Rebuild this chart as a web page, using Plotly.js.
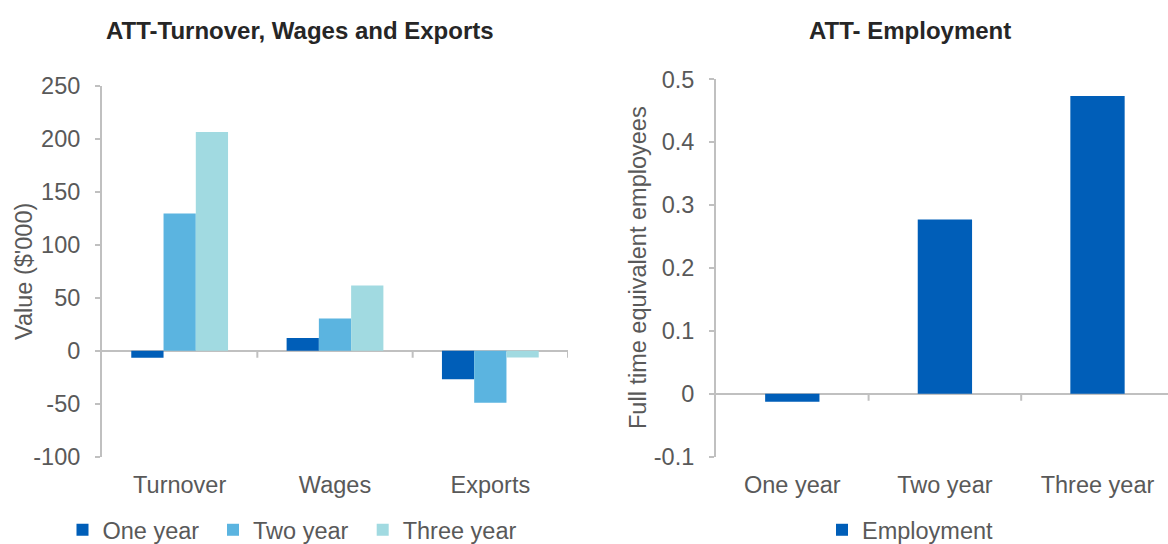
<!DOCTYPE html>
<html>
<head>
<meta charset="utf-8">
<script src="https://cdn.plot.ly/plotly-3.0.1.min.js"></script>
<style>html,body{margin:0;padding:0;background:#fff;}#chart{width:1168px;height:544px;}</style>
</head>
<body>
<div id="chart"></div>
<script>
// ---- data ----
var categories = ["Turnover", "Wages", "Exports"];
var oneYear = [-6.6, 12.0, -26.8];
var twoYear = [129.7, 30.5, -49.1];
var threeYear = [206.5, 61.7, -6.3];
var seriesNames = ["One year", "Two year", "Three year"];

var empCategories = ["One year", "Two year", "Three year"];
var employment = [-0.0127, 0.277, 0.4735];
var empName = "Employment";

var leftTickVals = [-100, -50, 0, 50, 100, 150, 200, 250];
var leftTickText = ["-100", "-50", "0", "50", "100", "150", "200", "250"];
var rightTickVals = [-0.1, 0, 0.1, 0.2, 0.3, 0.4, 0.5];
var rightTickText = ["-0.1", "0", "0.1", "0.2", "0.3", "0.4", "0.5"];

var titleLeft = "ATT-Turnover, Wages and Exports";
var titleRight = "ATT- Employment";
var yTitleLeft = "Value ($'000)";
var yTitleRight = "Full time equivalent employees";

// ---- styles ----
var FONT = "Arial, 'Liberation Sans', sans-serif";
var TXT = "#595959";
var AX = "#c0c0c0";
var FS = 23.5;
var colors = ["#005EB8", "#5BB4E0", "#A1DAE1"];
var leftLegendIds = ["legend", "legend3", "legend4"];
var leftLegendX = [62.5, 213, 362.7];

var traces = [];
[oneYear, twoYear, threeYear].forEach(function (vals, i) {
  traces.push({
    type: "bar", x: categories, y: vals, name: seriesNames[i],
    marker: {color: colors[i]}, xaxis: "x", yaxis: "y", legend: leftLegendIds[i], showlegend: true
  });
});
traces.push({
  type: "bar", x: empCategories, y: employment, name: empName,
  marker: {color: colors[0]}, xaxis: "x2", yaxis: "y2", legend: "legend2",
  width: 0.356, showlegend: true
});

function yAxis(dom, rng, tv, tt, anchor) {
  return {
    domain: dom, range: rng, anchor: anchor, tickmode: "array",
    tickvals: tv, ticktext: tt, showgrid: false,
    showline: true, linecolor: AX, linewidth: 2,
    ticks: "outside", ticklen: 5, tickwidth: 2, tickcolor: AX,
    ticklabelstandoff: 10,
    zeroline: true, zerolinecolor: AX, zerolinewidth: 2,
    tickfont: {family: FONT, size: FS, color: TXT},
    fixedrange: true
  };
}
function xAxis(dom, rng, anchor) {
  return {
    domain: dom, range: rng, anchor: anchor, type: "category",
    showline: false, showgrid: false, zeroline: false, ticks: "",
    ticklabelstandoff: 12,
    tickfont: {family: FONT, size: FS, color: TXT}, fixedrange: true
  };
}

function boundaryTicks(xref, yref, positions) {
  return positions.map(function (p) {
    return {
      type: "line", xref: xref, yref: yref, x0: p, x1: p,
      ysizemode: "pixel", yanchor: 0, y0: 0, y1: -7,
      line: {color: AX, width: 2}
    };
  });
}

function legendAt(px) {
  return {
    orientation: "h", x: px / 1168, xanchor: "left", y: 14 / 544, yanchor: "middle",
    font: {family: FONT, size: FS, color: TXT}, bgcolor: "rgba(0,0,0,0)"
  };
}

var layout = {
  width: 1168, height: 544,
  margin: {l: 0, r: 0, t: 0, b: 0, autoexpand: false},
  paper_bgcolor: "#ffffff", plot_bgcolor: "#ffffff",
  barmode: "group", bargap: 0.377, bargroupgap: 0,
  font: {family: FONT, size: FS, color: TXT},
  xaxis: xAxis([102 / 1168, 568 / 1168], [-0.5, 2.5], "y"),
  yaxis: yAxis([(544 - 456.7) / 544, (544 - 86) / 544], [-100, 250], leftTickVals, leftTickText, "x"),
  xaxis2: xAxis([716 / 1168, 1], [-0.5, 2.462], "y2"),
  yaxis2: yAxis([(544 - 456.7) / 544, (544 - 79.3) / 544], [-0.1, 0.5], rightTickVals, rightTickText, "x2"),
  legend2: legendAt(822),
  annotations: [
    {text: "<b>" + titleLeft + "</b>", xref: "paper", yref: "paper", x: 300 / 1168, y: (544 - 30) / 544,
     xanchor: "center", yanchor: "middle", showarrow: false, font: {family: FONT, size: 24, color: "#262626"}},
    {text: "<b>" + titleRight + "</b>", xref: "paper", yref: "paper", x: 910 / 1168, y: (544 - 30) / 544,
     xanchor: "center", yanchor: "middle", showarrow: false, font: {family: FONT, size: 24, color: "#262626"}},
    {text: yTitleLeft, xref: "paper", yref: "paper", x: 24 / 1168, y: (544 - 272) / 544, textangle: -90,
     xanchor: "center", yanchor: "middle", showarrow: false, font: {family: FONT, size: FS, color: TXT}},
    {text: yTitleRight, xref: "paper", yref: "paper", x: 638 / 1168, y: (544 - 268) / 544, textangle: -90,
     xanchor: "center", yanchor: "middle", showarrow: false, font: {family: FONT, size: FS, color: TXT}}
  ],
  shapes: boundaryTicks("x", "y", [0.5, 1.5, 2.5]).concat(boundaryTicks("x2", "y2", [0.5, 1.5])),
  showlegend: true
};
leftLegendIds.forEach(function (id, i) { layout[id] = legendAt(leftLegendX[i]); });

Plotly.newPlot("chart", traces, layout, {displayModeBar: false, staticPlot: true});
</script>
</body>
</html>
